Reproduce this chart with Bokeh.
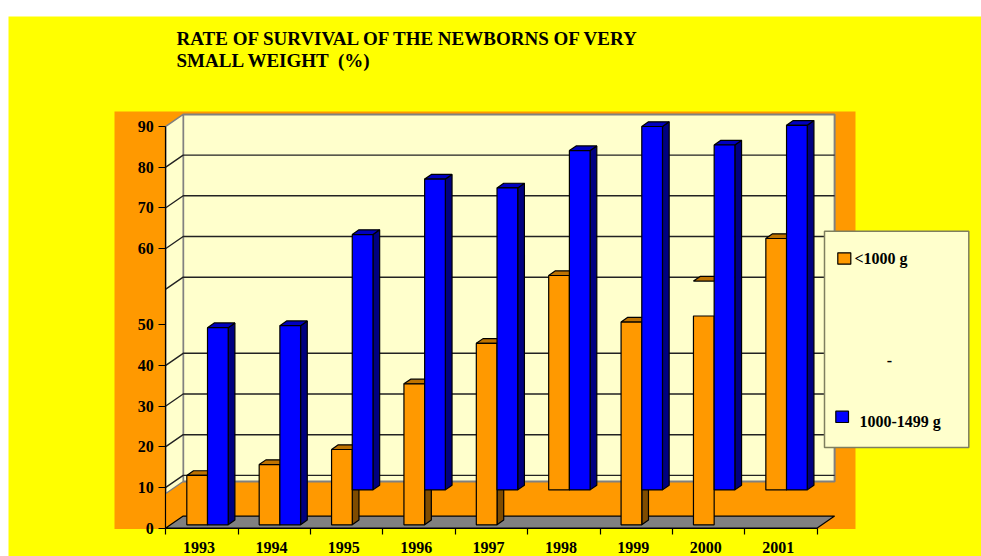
from bokeh.plotting import figure
from bokeh.models import LinearAxis, FixedTicker, Range1d
from bokeh.core.properties import value
from bokeh.embed import file_html
from bokeh.resources import INLINE

# ---- data (heights on the drawn axis scale) ----
years = ["1993", "1994", "1995", "1996", "1997", "1998", "1999", "2000", "2001"]
tick_positions = [0, 10, 20, 30, 40, 50, 68.7, 78.7, 88.7, 98.7]
tick_labels = ["0", "10", "20", "30", "40", "50", "60", "70", "80", "90"]
grid_positions = [10, 20, 30, 40, 58.7, 68.7, 78.7, 88.7]
orange_tops = [12.13, 14.8, 18.5, 34.63, 44.59, 61.26, 49.82, 51.3, 70.34]
orange_caps = [12.13, 14.8, 18.5, 34.63, 44.59, 61.26, 49.82, 59.88, 70.34]
orange_bases = [0, 0, 0, 0, 0, 8.58, 0, 0, 8.58]
blue_tops = [48.44, 48.93, 71.32, 84.94, 82.77, 91.94, 97.86, 93.32, 98.16]
blue_bases = [0, 0, 8.58, 8.58, 8.58, 8.58, 8.58, 8.58, 8.58]
series_names = ["<1000 g", "-", "1000-1499 g"]
title_lines = ["RATE OF SURVIVAL OF THE NEWBORNS OF VERY", "SMALL WEIGHT \u00a0(%)"]

# ---- layout ----
W, H = 973, 540
X0, XU = 165.3, 72.38      # pixel of category 0, pixels per category
Y0, YU = 527.6, 4.07       # pixel of height 0, pixels per height unit
FONT = value("Liberation Serif")
YELLOW, ORANGE, WALL = "#FFFF00", "#FF9900", "#FFFFCC"

def ux(px):
    return (px - X0) / XU

def uy(py):
    return (Y0 - py) / YU

p = figure(width=W, height=H, output_backend="svg", toolbar_location=None,
           x_range=Range1d(ux(8), ux(981)), y_range=Range1d(uy(556), uy(16)),
           x_axis_type=None, y_axis_type=None, min_border=0,
           background_fill_color=YELLOW, border_fill_color=YELLOW,
           outline_line_color=None, margin=(16, 0, 0, 8))
p.grid.visible = False

# orange panel
p.quad(left=ux(114), right=ux(855), top=uy(111), bottom=uy(528.6),
       fill_color=ORANGE, line_color=None)

# 3D depth of the chart box
DX, DY = 17.4 / XU, 12.0 / YU
WALL_LOW = uy(481)            # lower edge of the back wall
BOX_TOP = tick_positions[-1]
BOX_W = len(years)

# back wall and left wall
p.quad(left=DX, right=BOX_W + DX, top=BOX_TOP + DY, bottom=WALL_LOW,
       fill_color=WALL, line_color="#808080", line_width=2)
p.patch([0, DX, DX, 0], [BOX_TOP, BOX_TOP + DY, WALL_LOW, WALL_LOW - DY],
        fill_color=WALL, line_color="#808080", line_width=1.5)

# grid lines on both walls
for t in grid_positions:
    p.line([0, DX, BOX_W + DX], [t, t + DY, t + DY], line_color="#222222", line_width=1.4)

# floor
p.patch([0, DX, BOX_W + DX, BOX_W], [0, DY, DY, 0],
        fill_color="#808080", line_color="#000000", line_width=1.2)

# bars
PLANE = 0.81                  # height of the bars' front foot over the axis
BAR_OFF = 21.0 / XU
BAR_W = 20.7 / XU
BDX, BDY = 6.7 / XU, 4.7 / YU

def bars(x0s, tops, bases, caps, front, side, lid):
    for x, top, base, cap in zip(x0s, tops, bases, caps):
        t, c, b = top + PLANE, cap + PLANE, base + PLANE
        x1 = x + BAR_W
        if cap == top:
            p.patch([x1, x1 + BDX, x1 + BDX, x1], [b, b + BDY, t + BDY, t],
                    fill_color=side, line_color="#000000", line_width=1.2)
        p.patch([x, x + BDX, x1 + BDX, x1], [c, c + BDY, c + BDY, c],
                fill_color=lid, line_color="#000000", line_width=1.2)
        p.quad(left=x, right=x1, top=t, bottom=b,
               fill_color=front, line_color="#000000", line_width=1.2)

for i in range(len(years)):
    bars([i + BAR_OFF], [orange_tops[i]], [orange_bases[i]], [orange_caps[i]],
         ORANGE, "#7F4C00", "#BF7300")
    bars([i + BAR_OFF + BAR_W], [blue_tops[i]], [blue_bases[i]], [blue_tops[i]],
         "#0000FF", "#000080", "#0000BF")

# axes
yaxis = LinearAxis(fixed_location=0, bounds=(0, BOX_TOP), ticker=FixedTicker(ticks=tick_positions),
                   major_label_overrides=dict(zip(tick_positions, tick_labels)),
                   major_tick_in=0, major_tick_out=7, minor_tick_line_color=None,
                   major_label_standoff=5, major_label_text_font="Liberation Serif",
                   major_label_text_font_style="bold", major_label_text_font_size="16px",
                   major_label_text_color="#000000", axis_line_width=1.2, major_tick_line_width=1.2)
p.add_layout(yaxis, "left")

x_ticks = list(range(BOX_W + 1))
xaxis = LinearAxis(fixed_location=0, bounds=(0, BOX_W), ticker=FixedTicker(ticks=x_ticks),
                   major_label_text_color=None, major_tick_in=0, major_tick_out=6,
                   minor_tick_line_color=None, axis_line_width=1.2, major_tick_line_width=1.2)
p.add_layout(xaxis, "below")

label_ticks = [i + 0.46 for i in range(BOX_W)]
xlabels = LinearAxis(fixed_location=0, ticker=FixedTicker(ticks=label_ticks),
                     major_label_overrides=dict(zip(label_ticks, years)),
                     axis_line_color=None, major_tick_line_color=None, minor_tick_line_color=None,
                     major_tick_in=0, major_tick_out=0, major_label_standoff=14,
                     major_label_text_font="Liberation Serif", major_label_text_font_style="bold",
                     major_label_text_font_size="16px", major_label_text_color="#000000")
p.add_layout(xlabels, "below")

# title
for line, py in zip(title_lines, [38, 60]):
    p.text(x=[ux(176)], y=[uy(py)], text=[line], text_font=FONT, text_font_style="bold",
           text_font_size="19px", text_color="#000000", text_baseline="middle")

# legend box
p.quad(left=ux(824), right=ux(968.3), top=uy(230.7), bottom=uy(447),
       fill_color=WALL, line_color="#7F7F5F", line_width=1.5)
for (sx0, sx1, sy0, sy1, col) in [(837.3, 850.3, 252.3, 263.7, ORANGE), (835.3, 848, 410.7, 422, "#0000FF")]:
    p.quad(left=ux(sx0), right=ux(sx1), top=uy(sy0), bottom=uy(sy1),
           fill_color=col, line_color="#000000", line_width=1.2)
for name, (tx, ty, align) in zip(series_names, [(854, 258, "left"), (889, 360, "center"), (859, 421, "left")]):
    p.text(x=[ux(tx)], y=[uy(ty)], text=[name], text_font=FONT, text_font_style="bold",
           text_font_size="16px", text_color="#000000", text_baseline="middle", text_align=align)

open("out.html", "w").write(file_html(p, INLINE))
